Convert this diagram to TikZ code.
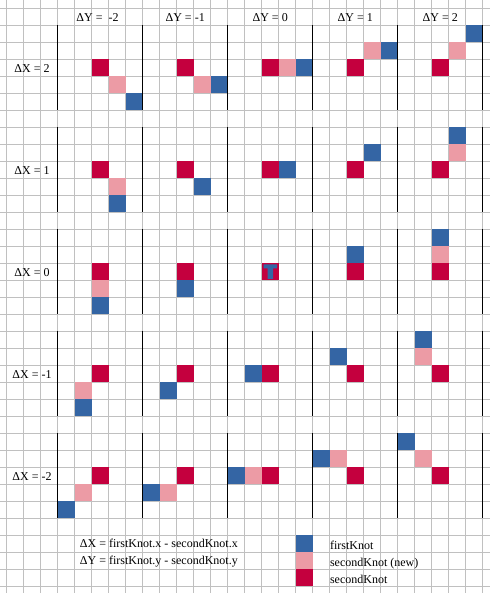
\documentclass[tikz,border=0pt]{standalone}
\usepackage{fontspec}
\setmainfont{Liberation Serif}
\definecolor{knotred}{RGB}{196,0,62}
\definecolor{knotpink}{RGB}{236,155,165}
\definecolor{knotblue}{RGB}{52,101,164}
\definecolor{gridgray}{RGB}{192,192,192}
\tikzset{
  gridline/.style={draw=gridgray,line width=1pt},
  blockline/.style={draw=black,line width=1.4pt},
  lbl/.style={inner sep=0pt,outer sep=0pt,font=\fontsize{12}{14}\selectfont},
}
\newcommand{\kcell}[3]{\fill[#3] (#1,#2) rectangle ++(1,1);}
\begin{document}
\begin{tikzpicture}[x=17pt,y=-17pt]
\useasboundingbox (-0.3941,-0.4882) rectangle (28.4294,34.3941);
% spreadsheet grid
\foreach \k in {0,...,28} \draw[gridline] (\k,-0.4882) -- (\k,34.3941);
\foreach \k in {0,...,34} \draw[gridline] (-0.3941,\k) -- (28.4294,\k);
% DX = 2
\kcell{5}{3}{knotred}\kcell{6}{4}{knotpink}\kcell{7}{5}{knotblue}
\kcell{10}{3}{knotred}\kcell{11}{4}{knotpink}\kcell{12}{4}{knotblue}
\kcell{15}{3}{knotred}\kcell{16}{3}{knotpink}\kcell{17}{3}{knotblue}
\kcell{20}{3}{knotred}\kcell{21}{2}{knotpink}\kcell{22}{2}{knotblue}
\kcell{25}{3}{knotred}\kcell{26}{2}{knotpink}\kcell{27}{1}{knotblue}
% DX = 1
\kcell{5}{9}{knotred}\kcell{6}{10}{knotpink}\kcell{6}{11}{knotblue}
\kcell{10}{9}{knotred}\kcell{11}{10}{knotblue}
\kcell{15}{9}{knotred}\kcell{16}{9}{knotblue}
\kcell{20}{9}{knotred}\kcell{21}{8}{knotblue}
\kcell{25}{9}{knotred}\kcell{26}{8}{knotpink}\kcell{26}{7}{knotblue}
% DX = 0
\kcell{5}{15}{knotred}\kcell{5}{16}{knotpink}\kcell{5}{17}{knotblue}
\kcell{10}{15}{knotred}\kcell{10}{16}{knotblue}
\kcell{15}{15}{knotred}
\fill[knotblue] (15.118,15.06) -- (15.9,15.06) -- (15.9,15.294) -- (15.665,15.294)
  -- (15.665,15.92) -- (15.353,15.92) -- (15.353,15.294) -- (15.118,15.294) -- cycle;
\kcell{20}{15}{knotred}\kcell{20}{14}{knotblue}
\kcell{25}{15}{knotred}\kcell{25}{14}{knotpink}\kcell{25}{13}{knotblue}
% DX = -1
\kcell{5}{21}{knotred}\kcell{4}{22}{knotpink}\kcell{4}{23}{knotblue}
\kcell{10}{21}{knotred}\kcell{9}{22}{knotblue}
\kcell{15}{21}{knotred}\kcell{14}{21}{knotblue}
\kcell{20}{21}{knotred}\kcell{19}{20}{knotblue}
\kcell{25}{21}{knotred}\kcell{24}{20}{knotpink}\kcell{24}{19}{knotblue}
% DX = -2
\kcell{5}{27}{knotred}\kcell{4}{28}{knotpink}\kcell{3}{29}{knotblue}
\kcell{10}{27}{knotred}\kcell{9}{28}{knotpink}\kcell{8}{28}{knotblue}
\kcell{15}{27}{knotred}\kcell{14}{27}{knotpink}\kcell{13}{27}{knotblue}
\kcell{20}{27}{knotred}\kcell{19}{26}{knotpink}\kcell{18}{26}{knotblue}
\kcell{25}{27}{knotred}\kcell{24}{26}{knotpink}\kcell{23}{25}{knotblue}
% legend swatches
\kcell{17}{31}{knotblue}\kcell{17}{32}{knotpink}\kcell{17}{33}{knotred}
% block separators
\foreach \i in {0,...,4}
  \foreach \c in {3,8,13,18,23,28}
    \draw[blockline] (\c,1+6*\i) -- (\c,6+6*\i);
% column headers
\node[lbl,anchor=base] (hm2) at (5.34,0.788) {ΔY =\ \ -2};
\node[lbl,anchor=base] (hm1) at (10.5,0.788) {ΔY = -1};
\node[lbl,anchor=base] (h0) at (15.5,0.788) {ΔY = 0};
\node[lbl,anchor=base] (hp1) at (20.5,0.788) {ΔY = 1};
\node[lbl,anchor=base] (hp2) at (25.5,0.788) {ΔY = 2};
% row labels
\node[lbl,anchor=base] (rp2) at (1.49,3.788) {ΔX = 2};
\node[lbl,anchor=base] (rp1) at (1.49,9.788) {ΔX = 1};
\node[lbl,anchor=base] (r0) at (1.49,15.788) {ΔX = 0};
\node[lbl,anchor=base] (rm1) at (1.49,21.788) {ΔX = -1};
\node[lbl,anchor=base] (rm2) at (1.49,27.788) {ΔX = -2};
% formulas
\node[lbl,anchor=base west] (fx) at (4.31,31.71) {ΔX = firstKnot.x - secondKnot.x};
\node[lbl,anchor=base west] (fy) at (4.31,32.71) {ΔY = firstKnot.y - secondKnot.y};
% legend texts
\node[lbl,anchor=base west] (lb) at (19.02,31.82) {firstKnot};
\node[lbl,anchor=base west] (lp) at (19.02,32.82) {secondKnot (new)};
\node[lbl,anchor=base west] (lr) at (19.02,33.82) {secondKnot};
\end{tikzpicture}
\end{document}
